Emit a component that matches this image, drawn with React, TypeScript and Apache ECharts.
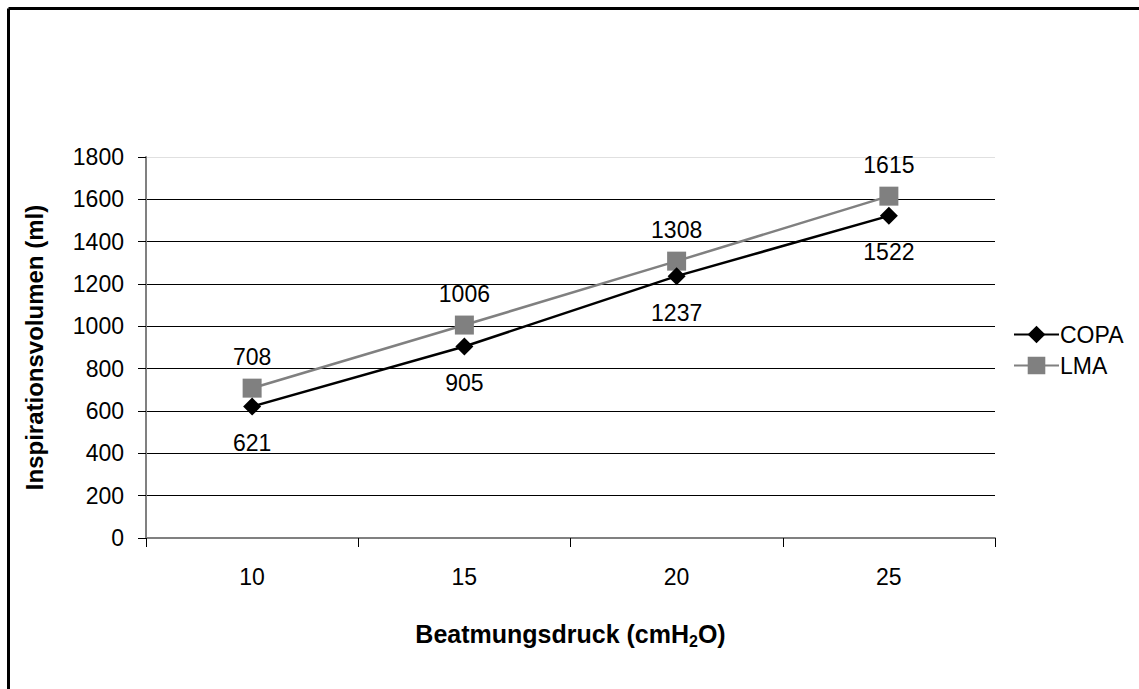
import React, { useEffect, useRef } from "react";
import * as echarts from "echarts";

const categories = ["10", "15", "20", "25"];
const copaValues = [621, 905, 1237, 1522];
const lmaValues = [708, 1006, 1308, 1615];
const yTicks = [0, 200, 400, 600, 800, 1000, 1200, 1400, 1600, 1800];

const FONT = "'Liberation Sans', Arial, sans-serif";

export default function App() {
  const ref = useRef<HTMLDivElement>(null);
  useEffect(() => {
    if (!ref.current) return;
    const chart = echarts.init(ref.current, null, { renderer: "svg" });
    chart.setOption({
      animation: false,
      backgroundColor: "#ffffff",
      textStyle: { fontFamily: FONT },
      grid: { left: 146, right: 144, top: 157, bottom: 151 },
      graphic: [
        { type: "line", shape: { x1: 8.5, y1: 8.5, x2: 1139, y2: 8.5 }, style: { stroke: "#000", lineWidth: 3 } },
        { type: "line", shape: { x1: 8.5, y1: 8.5, x2: 8.5, y2: 689 }, style: { stroke: "#000", lineWidth: 3 } },
      ],
      legend: {
        orient: "vertical",
        left: 1008,
        top: 318,
        itemWidth: 45,
        itemHeight: 22,
        itemGap: 8,
        textStyle: { fontSize: 23, color: "#000", fontFamily: FONT, padding: [0, 0, 0, -4] },
        data: ["COPA", "LMA"],
      },
      xAxis: {
        type: "category",
        data: categories,
        boundaryGap: true,
        name: "{a|Beatmungsdruck (cmH}{s|2}{a|O)}",
        nameLocation: "middle",
        nameGap: 81,
        nameTextStyle: {
          rich: {
            a: { fontSize: 25, fontWeight: "bold", color: "#000", fontFamily: FONT },
            s: { fontSize: 16, fontWeight: "bold", color: "#000", fontFamily: FONT, padding: [14, 0, 0, 0] },
          },
        },
        axisLine: { show: true, lineStyle: { color: "#808080", width: 2 } },
        axisTick: { show: true, inside: false, length: 9, alignWithLabel: false, lineStyle: { color: "#000", width: 1 } },
        axisLabel: { fontSize: 23, color: "#000", margin: 27, fontFamily: FONT },
        splitLine: { show: false },
      },
      yAxis: {
        type: "value",
        min: 0,
        max: 1800,
        interval: 200,
        name: "Inspirationsvolumen (ml)",
        nameLocation: "middle",
        nameGap: 100,
        nameTextStyle: { fontSize: 24, fontWeight: "bold", color: "#000", fontFamily: FONT },
        axisLine: { show: true, lineStyle: { color: "#808080", width: 2 } },
        axisTick: { show: true, length: 8, lineStyle: { color: "#000", width: 1 } },
        axisLabel: {
          fontSize: 23,
          color: "#000",
          margin: 22,
          fontFamily: FONT,
          formatter: (v: number) => (yTicks.includes(v) ? String(v) : ""),
        },
        splitLine: {
          show: true,
          lineStyle: {
            color: ["#000", "#000", "#000", "#000", "#000", "#000", "#000", "#000", "#000", "#e0e0e0"],
            width: 1,
          },
        },
      },
      series: [
        {
          name: "COPA",
          type: "line",
          data: copaValues,
          symbol: "diamond",
          symbolSize: 18,
          itemStyle: { color: "#000" },
          lineStyle: { color: "#000", width: 2.5 },
          label: { show: true, position: "bottom", distance: 16, fontSize: 23, color: "#000", fontFamily: FONT },
          z: 3,
        },
        {
          name: "LMA",
          type: "line",
          data: lmaValues,
          symbol: "rect",
          symbolSize: 19,
          itemStyle: { color: "#808080" },
          lineStyle: { color: "#808080", width: 2.5 },
          label: { show: true, position: "top", distance: 10, fontSize: 23, color: "#000", fontFamily: FONT },
          z: 2,
        },
      ],
    });
    return () => chart.dispose();
  }, []);
  return (
    <div
      ref={ref}
      style={{ position: "fixed", left: 0, top: 0, width: 1139, height: 689, background: "#fff" }}
    />
  );
}
